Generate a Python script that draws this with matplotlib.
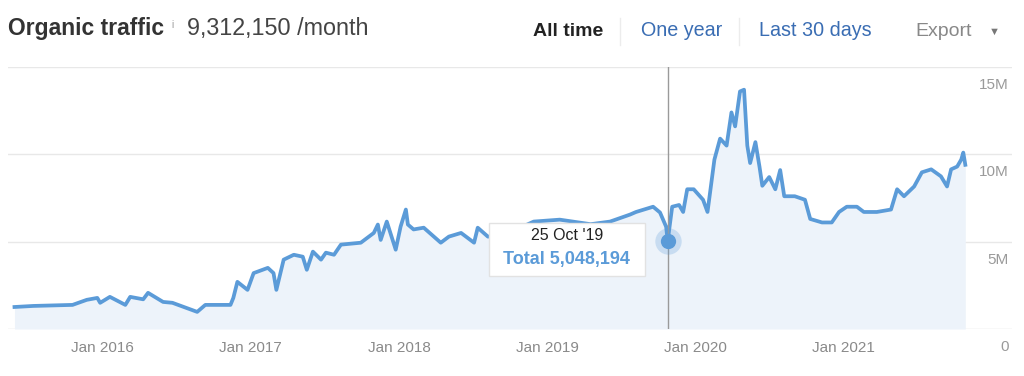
import numpy as np
import pandas as pd
import matplotlib as mpl
mpl.use('Agg')
import matplotlib.pyplot as plt
import matplotlib.dates as mdates
import matplotlib.transforms as mtransforms
from matplotlib.patches import Rectangle

plt.rcParams['font.family'] = ['Liberation Sans', 'DejaVu Sans']

# organic traffic, millions / month
dates = [
    '2015-05-30', '2015-07-15', '2015-09-01', '2015-10-20', '2015-11-24', '2015-12-20',
    '2015-12-27', '2016-01-20', '2016-02-27', '2016-03-10', '2016-04-11', '2016-04-23',
    '2016-05-30', '2016-06-22', '2016-08-22', '2016-09-11', '2016-11-12', '2016-11-19',
    '2016-11-29', '2016-12-24', '2017-01-08', '2017-02-12', '2017-02-26', '2017-03-05',
    '2017-03-23', '2017-04-17', '2017-05-09', '2017-05-19', '2017-06-03', '2017-06-23',
    '2017-07-05', '2017-07-25', '2017-08-11', '2017-09-29', '2017-10-31', '2017-11-10',
    '2017-11-17', '2017-12-02', '2017-12-24', '2018-01-05', '2018-01-18', '2018-01-23',
    '2018-02-06', '2018-03-03', '2018-04-14', '2018-05-04', '2018-06-03', '2018-07-05',
    '2018-07-14', '2018-08-08', '2018-09-09', '2018-11-29', '2019-02-01', '2019-04-18',
    '2019-06-05', '2019-07-24', '2019-08-08', '2019-09-19', '2019-10-06', '2019-10-21',
    '2019-10-25', '2019-11-05', '2019-11-22', '2019-12-02', '2019-12-12', '2019-12-28',
    '2020-01-20', '2020-01-31', '2020-02-17', '2020-03-02', '2020-03-18', '2020-03-30',
    '2020-04-08', '2020-04-20', '2020-04-30', '2020-05-08', '2020-05-15', '2020-05-28',
    '2020-06-07', '2020-06-14', '2020-07-01', '2020-07-16', '2020-07-28', '2020-08-07',
    '2020-09-02', '2020-09-27', '2020-10-10', '2020-11-08', '2020-12-02', '2020-12-20',
    '2021-01-08', '2021-02-02', '2021-02-19', '2021-03-23', '2021-04-27', '2021-05-12',
    '2021-05-29', '2021-06-23', '2021-07-12', '2021-08-04', '2021-08-28', '2021-09-12',
    '2021-09-22', '2021-10-07', '2021-10-17', '2021-10-22', '2021-10-27',
]
traffic_m = [
    1.26, 1.32, 1.35, 1.38, 1.67, 1.78,
    1.50, 1.84, 1.38, 1.84, 1.70, 2.07,
    1.55, 1.50, 0.98, 1.38, 1.38, 1.78,
    2.70, 2.24, 3.20, 3.50, 3.20, 2.24,
    3.97, 4.25, 4.14, 3.39, 4.43, 3.97,
    4.37, 4.25, 4.83, 4.94, 5.50, 5.98,
    5.10, 6.15, 4.54, 5.86, 6.84, 5.98,
    5.70, 5.80, 4.94, 5.29, 5.50, 4.94,
    5.80, 5.29, 5.30, 6.15, 6.26, 6.00,
    6.15, 6.55, 6.70, 7.00, 6.67, 5.86,
    5.048194, 7.00, 7.10, 6.70, 8.00, 8.00,
    7.40, 6.70, 9.70, 10.90, 10.50, 12.40,
    11.60, 13.60, 13.70, 10.50, 9.50, 10.70,
    9.30, 8.20, 8.70, 8.00, 9.10, 7.60,
    7.60, 7.40, 6.30, 6.10, 6.10, 6.70,
    7.00, 7.00, 6.70, 6.70, 6.84, 8.00,
    7.60, 8.16, 8.97, 9.14, 8.74, 8.16,
    9.14, 9.30, 9.70, 10.10, 9.40,
]
y_ticks = [0, 5, 10, 15]
y_tick_labels = ['0', '5M', '10M', '15M']
x_ticks = ['2016-01-01', '2017-01-01', '2018-01-01', '2019-01-01', '2020-01-01', '2021-01-01']
tip_date = '2019-10-25'
tip_value = 5048194

LINE = '#5b9bd8'
FILL = '#edf3fa'
GRID = '#e8e8e8'


def px(x, y):
    return x / 1024, 1 - y / 376


def main():
    fig = plt.figure(figsize=(10.24, 3.76), dpi=100)
    ax = fig.add_axes([8 / 1024, 47 / 376, 1004 / 1024, 262 / 376])

    t = pd.to_datetime(dates)
    v = np.array(traffic_m) * 1e6

    ax.fill_between(t, 0, v, color=FILL, lw=0, zorder=1)
    ax.plot(t, v, color=LINE, lw=2.7, solid_joinstyle='round', zorder=3)

    ax.set_ylim(0, 15e6)
    ax.set_xlim(pd.Timestamp('2015-05-14'), pd.Timestamp('2022-02-19'))

    for s in ax.spines.values():
        s.set_visible(False)
    for yv, lab in zip(y_ticks, y_tick_labels):
        ax.axhline(yv * 1e6, color=GRID if yv else '#dcdcdc', lw=1, zorder=0)
        off = mtransforms.offset_copy(ax.get_yaxis_transform(), fig=fig, x=-3, y=-11, units='dots')
        ax.text(1.0, yv * 1e6, lab, transform=off,
                ha='right', va='top', fontsize=11, color='#9a9a9a')
    ax.set_yticks([])

    ax.set_xticks(pd.to_datetime(x_ticks))
    ax.xaxis.set_major_formatter(mdates.DateFormatter('%b %Y'))
    ax.tick_params(axis='x', length=0, pad=9, labelsize=11, labelcolor='#8a8a8a')

    # tooltip
    td = pd.Timestamp(tip_date)
    ax.axvline(td, color='#9a9a9a', lw=1, zorder=4)
    ax.plot([td], [tip_value], 'o', ms=19, color=LINE, alpha=0.25, mec='none', zorder=5)
    ax.plot([td], [tip_value], 'o', ms=11, color=LINE, mec='none', zorder=6)

    anchor = fig.dpi_scale_trans + mtransforms.ScaledTranslation(
        mdates.date2num(td), tip_value, ax.transData)
    ax.add_patch(Rectangle((-1.79, -0.35), 1.56, 0.53, transform=anchor,
                           facecolor='white', edgecolor='#e2e2e2', lw=1, zorder=7,
                           clip_on=False))
    ax.text(-1.01, 0.05, td.strftime("%d %b '%y"), transform=anchor, ha='center',
            va='center', fontsize=11.5, color='#222222', zorder=8)
    ax.text(-1.01, -0.19, f'Total {tip_value:,}', transform=anchor, ha='center',
            va='center', fontsize=13, fontweight='bold', color=LINE, zorder=8)

    # header
    fig.text(*px(8, 29), 'Organic traffic', fontsize=16.5, fontweight='bold',
             color='#333333', va='center')
    fig.text(*px(171, 25), 'i', fontsize=7, color='#999999', va='center')
    fig.text(*px(187, 29), f'{9312150:,} /month', fontsize=16.8, color='#444444', va='center')
    fig.text(*px(533, 31), 'All time', fontsize=14, fontweight='bold',
             color='#222222', va='center')
    fig.text(*px(641, 31), 'One year', fontsize=14.2, color='#3a6db3', va='center')
    fig.text(*px(759, 31), 'Last 30 days', fontsize=14.2, color='#3a6db3', va='center')
    fig.text(*px(915, 31), 'Export', fontsize=14, color='#888888', va='center')
    fig.text(*px(994, 32), '▼', fontsize=8, color='#777777', va='center', ha='center')
    for xs in (620, 739):
        fig.add_artist(plt.Line2D([xs / 1024] * 2, [1 - 18 / 376, 1 - 45 / 376],
                                  color='#ececec', lw=1))

    fig.savefig('out.png', dpi=100, facecolor='white')


if __name__ == '__main__':
    main()
